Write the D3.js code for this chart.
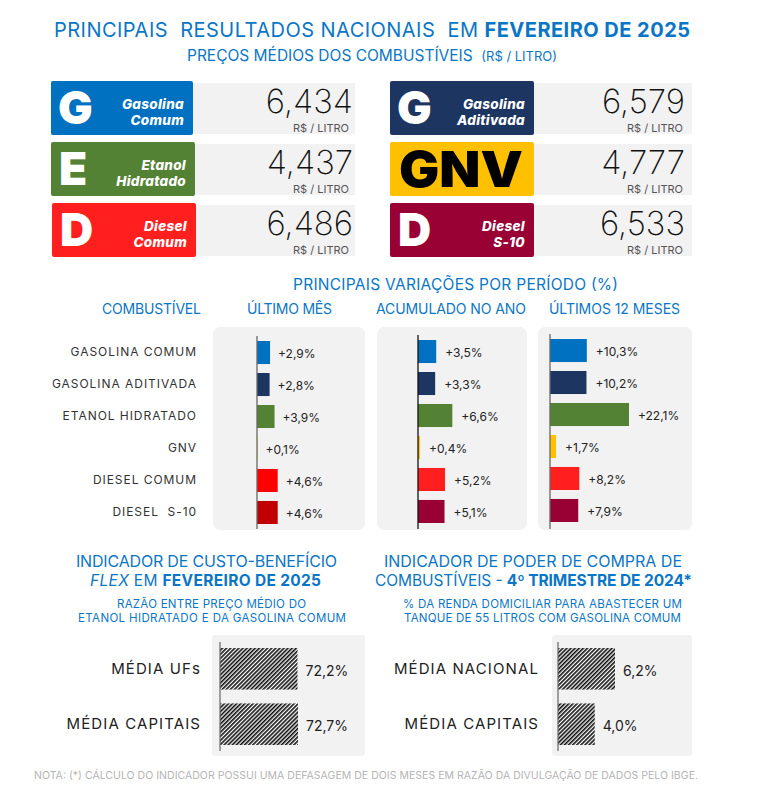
<!DOCTYPE html>
<html lang="pt-BR">
<head>
<meta charset="utf-8">
<script src="https://cdn.jsdelivr.net/npm/d3@7"></script>
<style>
  html, body { margin: 0; padding: 0; background: #fff; }
  svg { display: block; }
  text { font-family: Inter, "Open Sans", sans-serif; }
</style>
</head>
<body>
<div id="chart"></div>
<script>
// dados
const fuels = ["GASOLINA COMUM", "GASOLINA ADITIVADA", "ETANOL HIDRATADO", "GNV", "DIESEL COMUM", "DIESEL  S-10"];
const lastMonth = [2.9, 2.8, 3.9, 0.1, 4.6, 4.6];
const yearToDate = [3.5, 3.3, 6.6, 0.4, 5.2, 5.1];
const last12Months = [10.3, 10.2, 22.1, 1.7, 8.2, 7.9];
const fuelColors = ["#0070c0", "#1c3561", "#548235", "#ffc000", "#ff1f1f", "#990033"];
const lastMonthColors = ["#0070c0", "#1c3561", "#548235", "#ffc000", "#ff0000", "#c00000"];

const cardFuels = ["Gasolina Comum", "Etanol Hidratado", "Diesel Comum", "Gasolina Aditivada", "GNV", "Diesel S-10"];
const cardLetters = ["G", "E", "D", "G", "GNV", "D"];
const cardPrices = [6.434, 4.437, 6.486, 6.579, 4.777, 6.533];
const cardColors = ["#0070c0", "#548235", "#ff1f1f", "#1c3561", "#ffc000", "#990033"];

const flexLabels = ["MÉDIA UFs", "MÉDIA CAPITAIS"];
const flexValues = [72.2, 72.7];
const powerLabels = ["MÉDIA NACIONAL", "MÉDIA CAPITAIS"];
const powerValues = [6.2, 4.0];

const BLUE = "#0b76c6";
const fmt = (v, digits) => v.toFixed(digits).replace(".", ",");

const svg = d3.select("#chart").append("svg").attr("width", 774).attr("height", 789);

svg.append("defs").append("pattern")
    .attr("id", "hatch")
    .attr("width", 2.9).attr("height", 2.9)
    .attr("patternUnits", "userSpaceOnUse")
    .attr("patternTransform", "rotate(45)")
  .call(p => p.append("rect").attr("width", 2.9).attr("height", 2.9).attr("fill", "#f8f8f8"))
  .call(p => p.append("rect").attr("width", 1.6).attr("height", 2.9).attr("fill", "#111"));

// texto com largura fixa, igual ao original; parts = [[texto, estilo], ...]
function label(x1, x2, y, parts, size, color, weight) {
    const t = svg.append("text")
        .attr("x", x1).attr("y", y)
        .attr("textLength", x2 - x1)
        .attr("lengthAdjust", "spacing")
        .attr("font-size", size)
        .attr("font-weight", weight || 400)
        .attr("fill", color)
        .attr("xml:space", "preserve");
    parts.forEach(([s, style]) => {
        const span = t.append("tspan").text(s);
        if (style) Object.entries(style).forEach(([k, v]) => span.attr(k, v));
    });
    return t;
}
const B = { "font-weight": 700 };

label(54, 690, 37, [["PRINCIPAIS  RESULTADOS NACIONAIS  EM "], ["FEVEREIRO DE 2025", B]], 20, BLUE);
label(187, 557, 61, [["PREÇOS MÉDIOS DOS COMBUSTÍVEIS  "], ["(R$ / LITRO)", { "font-size": 13 }]], 15.5, BLUE);

// cartões de preço
const cardX = [51, 51, 52, 390, 390, 390];
const cardW = [142, 144, 144, 144, 144, 144];
const panelEnd = [355, 355, 355, 692, 692, 692];
const rowY = d3.scaleBand().domain(d3.range(3)).range([81, 257]).paddingInner(7 / 61);

const cards = svg.append("g").selectAll("g").data(cardFuels).join("g")
    .attr("transform", (d, i) => `translate(0,${rowY(i % 3)})`);

cards.append("rect")
    .attr("x", (d, i) => cardX[i] + cardW[i])
    .attr("y", 2)
    .attr("width", (d, i) => panelEnd[i] - cardX[i] - cardW[i])
    .attr("height", rowY.bandwidth() - 3)
    .attr("fill", "#f2f2f2");

cards.append("rect")
    .attr("x", (d, i) => cardX[i])
    .attr("width", (d, i) => cardW[i])
    .attr("height", rowY.bandwidth())
    .attr("rx", 2)
    .attr("fill", (d, i) => cardColors[i]);

cards.append("text")
    .attr("x", (d, i) => cardLetters[i] === "GNV" ? cardX[i] + 9 : cardX[i] + (i === 0 || i === 3 ? 7 : 8))
    .attr("y", (d, i) => cardLetters[i] === "GNV" ? 45 : 43)
    .attr("font-size", (d, i) => cardLetters[i] === "GNV" ? 50 : 46)
    .attr("font-weight", 900)
    .attr("fill", (d, i) => cardLetters[i] === "GNV" ? "#000" : "#fff")
    .attr("textLength", (d, i) => cardLetters[i] === "GNV" ? 124 : null)
    .attr("lengthAdjust", "spacingAndGlyphs")
    .text((d, i) => cardLetters[i]);

cards.filter(d => d !== "GNV").each(function(d) {
    const idx = cardFuels.indexOf(d);
    const words = d.split(" ");
    d3.select(this).selectAll("text.name").data(words).join("text")
        .attr("class", "name")
        .attr("x", cardX[idx] + cardW[idx] - 9)
        .attr("y", (w, j) => 28 + j * 16)
        .attr("text-anchor", "end")
        .attr("font-size", 13.5)
        .attr("font-weight", 800)
        .attr("font-style", "italic")
        .attr("letter-spacing", 0.3)
        .attr("fill", "#fff")
        .text(w => w);
});

cards.append("text")
    .attr("x", (d, i) => panelEnd[i] - (i < 3 ? 2 : 7))
    .attr("y", 32)
    .attr("text-anchor", "end")
    .attr("font-size", 33)
    .attr("font-weight", 200)
    .attr("fill", "#111")
    .text((d, i) => fmt(cardPrices[i], 3));

cards.append("text")
    .attr("x", (d, i) => panelEnd[i] - (i < 3 ? 6 : 9))
    .attr("y", 51)
    .attr("text-anchor", "end")
    .attr("font-size", 11)
    .attr("fill", "#555")
    .text("R$ / LITRO");

// variações por período
label(293, 618, 290, [["PRINCIPAIS VARIAÇÕES POR PERÍODO (%)"]], 15.5, BLUE);
label(102, 201, 314, [["COMBUSTÍVEL"]], 14, BLUE);
label(247, 332, 314, [["ÚLTIMO MÊS"]], 14, BLUE);
label(376, 526, 314, [["ACUMULADO NO ANO"]], 14, BLUE);
label(549, 680, 314, [["ÚLTIMOS 12 MESES"]], 14, BLUE);

function variationPanel(values, colors, o) {
    const x = d3.scaleLinear().domain([0, 22.1]).range([o.x0, o.x0 + 22.1 * o.unit]);
    const y = d3.scaleBand().domain(fuels).range([o.y0, o.y0 + 183]).paddingInner(0.28);
    const g = svg.append("g");

    g.append("rect").attr("x", o.left).attr("y", 327)
        .attr("width", o.right - o.left).attr("height", 203)
        .attr("rx", 7).attr("fill", "#f2f2f2");

    g.selectAll("rect.bar").data(values).join("rect")
        .attr("class", "bar")
        .attr("x", x(0))
        .attr("y", (d, i) => y(fuels[i]))
        .attr("width", d => x(d) - x(0))
        .attr("height", y.bandwidth())
        .attr("fill", (d, i) => colors[i]);

    g.append("line").attr("x1", x(0)).attr("x2", x(0))
        .attr("y1", o.y0 - 5).attr("y2", 529)
        .attr("stroke", o.axisColor).attr("stroke-width", 1.3);

    g.selectAll("text.val").data(values).join("text")
        .attr("class", "val")
        .attr("x", d => x(d) + o.gap)
        .attr("y", (d, i) => y(fuels[i]) + y.bandwidth() / 2 + 1.5)
        .attr("dy", "0.35em")
        .attr("font-size", 12)
        .attr("fill", "#222")
        .text(d => "+" + fmt(d, 1) + "%");
    return y;
}

const yFirst = variationPanel(lastMonth, lastMonthColors,
    { left: 213, right: 365, x0: 257, unit: 4.5, y0: 341, gap: 8, axisColor: "#666" });
variationPanel(yearToDate, fuelColors,
    { left: 377, right: 527, x0: 418, unit: 5.2, y0: 340, gap: 9, axisColor: "#111" });
variationPanel(last12Months, fuelColors,
    { left: 538, right: 692, x0: 550, unit: 3.575, y0: 339, gap: 9, axisColor: "#666" });

// rótulos dos combustíveis
const catAxis = svg.append("g")
    .attr("transform", "translate(197,0)")
    .call(d3.axisLeft(yFirst).tickSize(0).tickPadding(0));
catAxis.select(".domain").remove();
catAxis.selectAll("text")
    .attr("font-family", "Inter, 'Open Sans', sans-serif")
    .attr("font-size", 12)
    .attr("letter-spacing", 0.95)
    .attr("fill", "#333")
    .attr("xml:space", "preserve");

// indicadores
label(76, 337, 567, [["INDICADOR DE CUSTO-BENEFÍCIO"]], 16, BLUE);
label(90, 321, 586, [["FLEX", { "font-style": "italic" }], [" EM "], ["FEVEREIRO DE 2025", B]], 15.5, BLUE);
label(117, 306, 608, [["RAZÃO ENTRE PREÇO MÉDIO DO"]], 11.5, BLUE);
label(78, 346, 622, [["ETANOL HIDRATADO E DA GASOLINA COMUM"]], 11.5, BLUE);
label(384, 682, 567, [["INDICADOR DE PODER DE COMPRA DE"]], 16, BLUE);
label(375, 692, 586, [["COMBUSTÍVEIS - "], ["4º TRIMESTRE DE 2024*", B]], 15.5, BLUE);
label(403, 682, 608, [["% DA RENDA DOMICILIAR PARA ABASTECER UM"]], 11.5, BLUE);
label(404, 681, 622, [["TANQUE DE 55 LITROS COM GASOLINA COMUM"]], 11.5, BLUE);

function hatchPanel(labels, values, o) {
    const x = d3.scaleLinear().domain([0, d3.max(values)]).range([o.x0, o.x1]);
    const y = d3.scaleBand().domain(labels).range([648, 745]).paddingInner(0.25);
    const g = svg.append("g");

    g.append("rect").attr("x", o.left).attr("y", 635)
        .attr("width", o.right - o.left).attr("height", 121)
        .attr("rx", 3).attr("fill", "#f2f2f2");

    g.selectAll("rect.bar").data(values).join("rect")
        .attr("class", "bar")
        .attr("x", x(0))
        .attr("y", (d, i) => y(labels[i]))
        .attr("width", d => x(d) - x(0))
        .attr("height", y.bandwidth())
        .attr("fill", "url(#hatch)");

    g.append("line").attr("x1", x(0)).attr("x2", x(0))
        .attr("y1", 642).attr("y2", 751)
        .attr("stroke", "#666").attr("stroke-width", 1.2);

    const axis = g.append("g")
        .attr("transform", `translate(${o.labelX},0)`)
        .call(d3.axisLeft(y).tickSize(0).tickPadding(0));
    axis.select(".domain").remove();
    axis.selectAll("text")
        .attr("font-family", "Inter, 'Open Sans', sans-serif")
        .attr("font-size", 15)
        .attr("letter-spacing", 1.1)
        .attr("fill", "#222");

    g.selectAll("text.val").data(values).join("text")
        .attr("class", "val")
        .attr("x", d => x(d) + o.gap)
        .attr("y", (d, i) => y(labels[i]) + y.bandwidth() / 2 + 2)
        .attr("dy", "0.35em")
        .attr("font-size", 14)
        .attr("fill", "#222")
        .text(d => fmt(d, 1) + "%");
}

hatchPanel(flexLabels, flexValues, { left: 212, right: 365, x0: 220, x1: 298, labelX: 201, gap: 8 });
hatchPanel(powerLabels, powerValues, { left: 552, right: 692, x0: 558, x1: 615, labelX: 539, gap: 8 });

label(34, 698, 779, [["NOTA: (*) CÁLCULO DO INDICADOR POSSUI UMA DEFASAGEM DE DOIS MESES EM RAZÃO DA DIVULGAÇÃO DE DADOS PELO IBGE."]], 10.5, "#b5b5b5");
</script>
</body>
</html>
